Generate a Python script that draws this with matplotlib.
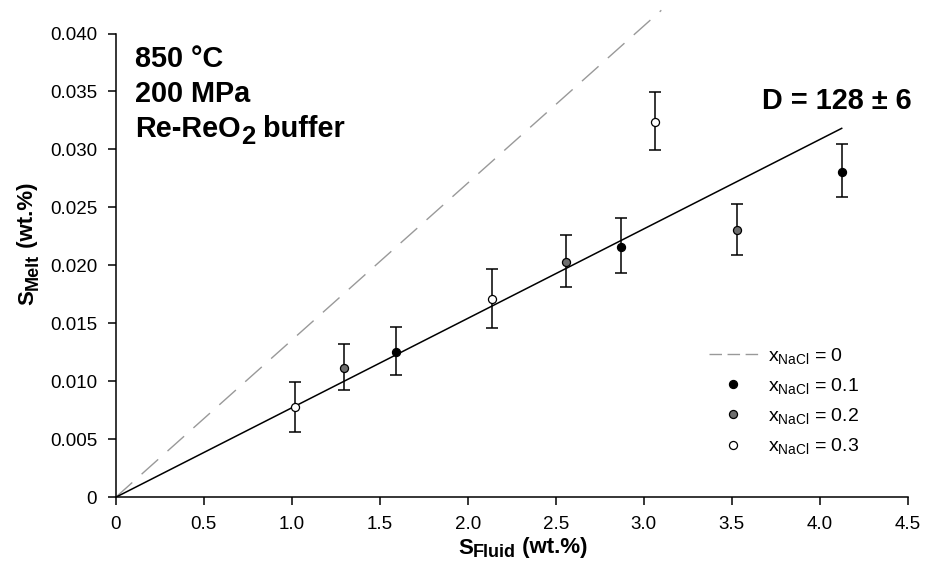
import matplotlib
matplotlib.use("Agg")
import matplotlib.pyplot as plt
from matplotlib.lines import Line2D
from matplotlib.transforms import IdentityTransform
import numpy as np

plt.rcParams['font.family'] = ['Liberation Sans', 'DejaVu Sans']
plt.rcParams['mathtext.fontset'] = 'custom'
plt.rcParams['mathtext.rm'] = 'Liberation Sans'
plt.rcParams['mathtext.it'] = 'Liberation Sans:italic'
plt.rcParams['mathtext.bf'] = 'Liberation Sans:bold'

# ---- data ----
series_labels = ['0.1', '0.2', '0.3']
x01 = [1.593, 2.869, 4.128]
y01 = [0.01256, 0.02161, 0.02808]
lo01 = [0.01055, 0.01932, 0.02593]
hi01 = [0.01466, 0.02405, 0.03044]

x02 = [1.299, 2.558, 3.528]
y02 = [0.01115, 0.02032, 0.02305]
lo02 = [0.00925, 0.01816, 0.02087]
hi02 = [0.01325, 0.02260, 0.02530]

x03 = [1.019, 2.136, 3.065]
y03 = [0.00776, 0.01708, 0.03239]
lo03 = [0.00566, 0.01460, 0.02995]
hi03 = [0.00992, 0.01969, 0.03495]

fit_x = [0.0, 4.125]
fit_y = [0.0, 0.03182]
dash_x = [0.0, 3.10]
dash_y = [0.0, 0.0420]

xticks = [0, 0.5, 1.0, 1.5, 2.0, 2.5, 3.0, 3.5, 4.0, 4.5]
xticklabels = ['0', '0.5', '1.0', '1.5', '2.0', '2.5', '3.0', '3.5', '4.0', '4.5']
yticks = [0, 0.005, 0.010, 0.015, 0.020, 0.025, 0.030, 0.035, 0.040]
yticklabels = ['0', '0.005', '0.010', '0.015', '0.020', '0.025', '0.030', '0.035', '0.040']

colors = {'0.1': 'black', '0.2': '#6e6e6e', '0.3': 'white'}

W, H = 931, 562
fig = plt.figure(figsize=(W / 100, H / 100), dpi=100)
ax = fig.add_axes([115.7 / W, 1 - 497.3 / H, (907.7 - 115.7) / W, (497.3 - 33.5) / H])

ax.plot(dash_x, dash_y, color='#999999', lw=1.0, dashes=(16, 9), clip_on=False, zorder=2)
ax.plot(fit_x, fit_y, color='black', lw=1.1, zorder=2)

for lab, xs, ys, lo, hi in [('0.1', x01, y01, lo01, hi01),
                            ('0.2', x02, y02, lo02, hi02),
                            ('0.3', x03, y03, lo03, hi03)]:
    xs = np.array(xs); ys = np.array(ys)
    yerr = np.vstack([ys - np.array(lo), np.array(hi) - ys])
    ax.errorbar(xs, ys, yerr=yerr, fmt='none', ecolor='black', elinewidth=1.1,
                capsize=4.5, capthick=1.1, zorder=3)
    ax.plot(xs, ys, 'o', ms=5.8, mfc=colors[lab], mec='black', mew=0.9, zorder=4,
            ls='none')

ax.set_xlim(0, 4.5)
ax.set_ylim(0, 0.040)
ax.set_xticks(xticks)
ax.set_xticklabels(xticklabels)
ax.set_yticks(yticks)
ax.set_yticklabels(yticklabels)
ax.tick_params(direction='out', length=5.8, width=1.1, labelsize=13.5)
ax.tick_params(axis='x', pad=8)
ax.tick_params(axis='y', pad=7.5)
for s in ['top', 'right']:
    ax.spines[s].set_visible(False)
for s in ['left', 'bottom']:
    ax.spines[s].set_linewidth(1.1)

renderer = fig.canvas.get_renderer()


def pieces_text(x_top, y_top, pieces, rotation=0):
    """Draw text pieces (string, size, drop_px) side by side, starting at pixel
    (x_top, y_top) measured from the top-left of the image (baseline start)."""
    x = x_top
    y = H - y_top
    for s, size, drop in pieces:
        if rotation == 0:
            t = fig.text(x, y - drop, s, transform=IdentityTransform(), fontsize=size,
                         fontweight='bold', ha='left', va='baseline')
            x += t.get_window_extent(renderer).width
        else:
            t = fig.text(x + drop, y, s, transform=IdentityTransform(), fontsize=size,
                         fontweight='bold', ha='left', va='baseline', rotation=90,
                         rotation_mode='anchor')
            y += t.get_window_extent(renderer).height


big = 20.8
pieces_text(135, 66.7, [('850 °C', big, 0)])
pieces_text(135, 101.7, [('200 MPa', big, 0)])
pieces_text(135, 136.7, [('Re-ReO', big, 0), ('2', 18.5, 7), (' buffer', big, 0)])
fig.text(911.7, H - 109.3, 'D = 128 ± 6', transform=IdentityTransform(), fontsize=big,
         fontweight='bold', ha='right', va='baseline')

pieces_text(458, 553.5, [('S', 16, 0), ('Fluid', 13, 3.5), (' (wt.%)', 16, 0)])
pieces_text(33.3, 305, [('S', 16, 0), ('Melt', 13, 4), (' (wt.%)', 16, 0)], rotation=90)

handles = [Line2D([], [], color='#999999', lw=1.0, dashes=(9, 4))]
labels = [r'x$_{\mathrm{NaCl}}$ = 0']
for lab in series_labels:
    handles.append(Line2D([], [], marker='o', ls='none', ms=5.8, mfc=colors[lab], mec='black', mew=0.9))
    labels.append(r'x$_{\mathrm{NaCl}}$ = ' + lab)
ax.legend(handles, labels, loc='upper left', bbox_to_anchor=((709 - 115.7) / 792, (497.3 - 346) / 463.8),
          frameon=False, fontsize=14, handlelength=2.5, handletextpad=0.55, labelspacing=0.52,
          borderpad=0, borderaxespad=0)

fig.savefig('out.png', dpi=100)
